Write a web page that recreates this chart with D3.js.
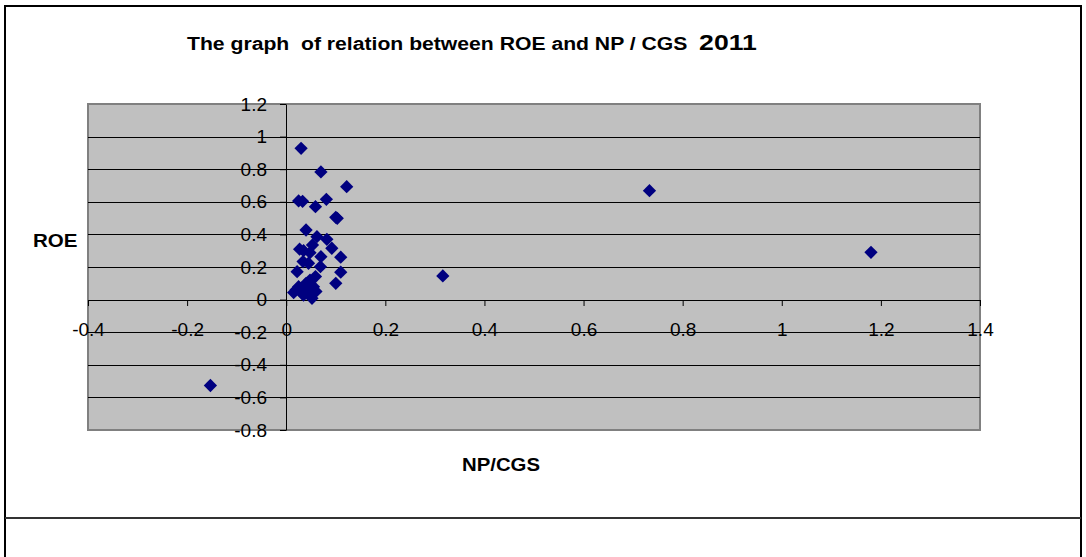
<!DOCTYPE html>
<html>
<head>
<meta charset="utf-8">
<script src="https://cdn.jsdelivr.net/npm/d3@7"></script>
<style>
body { margin: 0; background: #fff; }
text { font-family: Arial, "Liberation Sans", sans-serif; }
</style>
</head>
<body>
<div id="chart"></div>
<script>
// NP/CGS (x) and ROE (y), 2011
var npcgs = [-0.153, 0.316, 0.733, 1.180,
  0.030, 0.070, 0.122, 0.025, 0.033, 0.081, 0.059, 0.100, 0.103, 0.040,
  0.062, 0.082, 0.053, 0.092, 0.027, 0.035, 0.048, 0.070, 0.110, 0.034,
  0.045, 0.069, 0.022, 0.110, 0.059, 0.100, 0.048, 0.038, 0.025, 0.015,
  0.032, 0.052, 0.045, 0.035, 0.055, 0.040, 0.060, 0.020];
var roe = [-0.527, 0.145, 0.668, 0.290,
  0.928, 0.783, 0.693, 0.605, 0.603, 0.615, 0.570, 0.505, 0.499, 0.427,
  0.386, 0.370, 0.335, 0.315, 0.309, 0.300, 0.288, 0.263, 0.260, 0.233,
  0.223, 0.202, 0.171, 0.168, 0.141, 0.100, 0.120, 0.079, 0.079, 0.043,
  0.039, 0.008, 0.059, 0.028, 0.079, 0.100, 0.050, 0.060];
var xTicks = [-0.4, -0.2, 0, 0.2, 0.4, 0.6, 0.8, 1, 1.2, 1.4];
var yTicks = [-0.8, -0.6, -0.4, -0.2, 0, 0.2, 0.4, 0.6, 0.8, 1, 1.2];

var W = 1086, H = 557;
var pLeft = 88, pRight = 980, pTop = 104, pBottom = 430;

var svg = d3.select("#chart").append("svg").attr("width", W).attr("height", H);

// outer frame
svg.append("rect").attr("x", 5).attr("y", 6).attr("width", 1076).attr("height", 560)
  .attr("fill", "#fff").attr("stroke", "#000").attr("stroke-width", 2);
svg.append("line").attr("x1", 5).attr("x2", 1081).attr("y1", 518).attr("y2", 518)
  .attr("stroke", "#333").attr("stroke-width", 2);

var x = d3.scaleLinear().domain([-0.4, 1.4]).range([pLeft, pRight]);
var y = d3.scaleLinear().domain([-0.8, 1.2]).range([pBottom, pTop]);

// plot area
svg.append("rect").attr("x", pLeft).attr("y", pTop).attr("width", pRight - pLeft).attr("height", pBottom - pTop)
  .attr("fill", "#c0c0c0").attr("stroke", "#808080").attr("stroke-width", 2);

svg.append("g").selectAll("line").data(yTicks.slice(1, -1)).enter().append("line")
  .attr("x1", pLeft).attr("x2", pRight)
  .attr("y1", function(d) { return Math.round(y(d)) + 0.5; })
  .attr("y2", function(d) { return Math.round(y(d)) + 0.5; })
  .attr("stroke", "#000").attr("stroke-width", 1);

var fmt = function(d) { return String(+d.toFixed(1)); };

var yAxis = svg.append("g")
  .attr("transform", "translate(" + Math.round(x(0)) + ",0)")
  .call(d3.axisLeft(y).tickValues(yTicks).tickFormat(fmt).tickSize(6).tickSizeOuter(0).tickPadding(13));
var xAxis = svg.append("g")
  .attr("transform", "translate(0," + Math.round(y(0)) + ")")
  .call(d3.axisBottom(x).tickValues(xTicks).tickFormat(fmt).tickSize(6).tickSizeOuter(0).tickPadding(17));

[xAxis, yAxis].forEach(function(a) {
  a.selectAll("text").style("font-size", "19px").attr("fill", "#000")
    .style("font-family", "Arial, 'Liberation Sans', sans-serif");
  a.selectAll("line").attr("stroke", "#000");
  a.select(".domain").attr("stroke", "#000");
});

// points
svg.append("g").selectAll("path").data(npcgs).enter().append("path")
  .attr("d", d3.symbol(d3.symbolSquare, 88))
  .attr("transform", function(d, i) { return "translate(" + x(d) + "," + y(roe[i]) + ") rotate(45)"; })
  .attr("fill", "#000080");

// titles (the original is a bit stretched sideways)
var title = svg.append("text").attr("transform", "translate(187,50) scale(1.21,1)")
  .style("font-weight", "bold").style("font-size", "17.5px").attr("xml:space", "preserve")
  .style("white-space", "pre");
title.append("tspan").text("The graph  of relation between ROE and NP / CGS  ");
title.append("tspan").style("font-size", "22px").text("2011");

svg.append("text").attr("transform", "translate(33,247) scale(1.11,1)")
  .style("font-weight", "bold").style("font-size", "18.5px").text("ROE");
svg.append("text").attr("transform", "translate(462,471) scale(1.1,1)")
  .style("font-weight", "bold").style("font-size", "18.5px").text("NP/CGS");
</script>
</body>
</html>
